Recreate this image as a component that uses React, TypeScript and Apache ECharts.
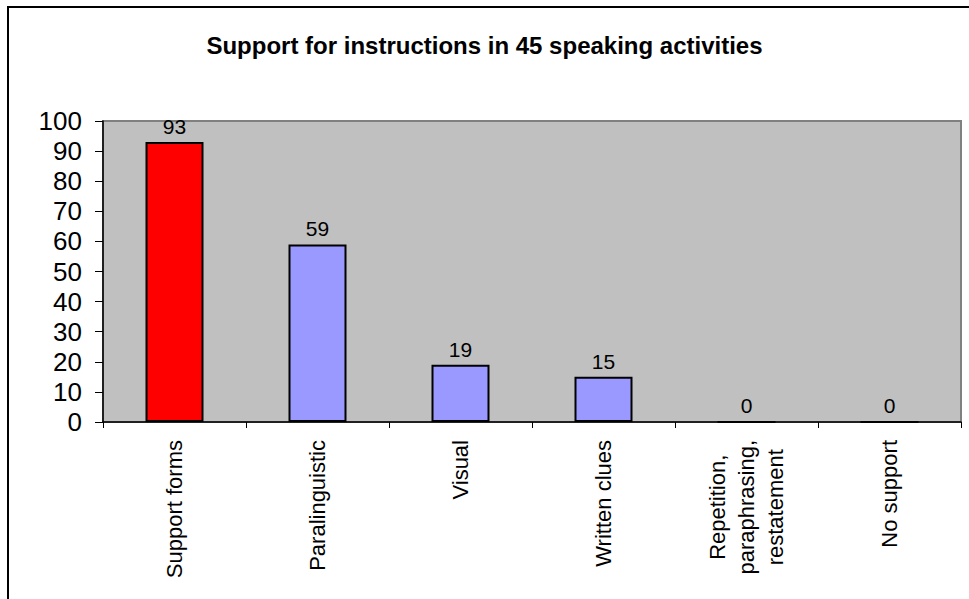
import React, { useEffect, useRef } from "react";
import * as echarts from "echarts";

const titleText = "Support for instructions in 45 speaking activities";
const categories = [
  "Support forms",
  "Paralinguistic",
  "Visual",
  "Written clues",
  "Repetition,\nparaphrasing,\nrestatement",
  "No support",
];
const values = [93, 59, 19, 15, 0, 0];
const yMin = 0;
const yMax = 100;
const yInterval = 10;
const highlightIndex = 0;

export default function App() {
  const ref = useRef<HTMLDivElement>(null);
  useEffect(() => {
    if (!ref.current) return;
    const chart = echarts.init(ref.current, null, { renderer: "svg" });
    const font = "'Liberation Sans', Arial, sans-serif";
    chart.setOption({
      animation: false,
      backgroundColor: "#ffffff",
      title: {
        text: titleText,
        left: "center",
        top: 28,
        textStyle: { fontFamily: font, fontSize: 24, fontWeight: "bold", color: "#000" },
      },
      graphic: [
        {
          type: "rect",
          silent: true,
          z: 100,
          shape: { x: 8, y: 7, width: 1400, height: 1400 },
          style: { fill: "none", stroke: "#000", lineWidth: 2 },
        },
      ],
      grid: {
        left: 103,
        top: 121,
        right: 8,
        bottom: 177,
        show: true,
        backgroundColor: "#C0C0C0",
        borderColor: "#808080",
        borderWidth: 2,
      },
      xAxis: {
        type: "category",
        data: categories,
        axisLine: { show: true, lineStyle: { color: "#000", width: 1.5 } },
        axisTick: { show: true, length: 6, lineStyle: { color: "#000" } },
        axisLabel: {
          rotate: 90,
          interval: 0,
          margin: 18,
          fontSize: 22,
          lineHeight: 29,
          color: "#000",
          fontFamily: font,
          formatter: (v: string) =>
            v.indexOf("\n") >= 0
              ? v
                  .split("\n")
                  .map((l) => `{c|${l}}`)
                  .join("\n")
              : v,
          rich: {
            c: { align: "center", fontSize: 22, lineHeight: 29, fontFamily: font, color: "#000" },
          },
        },
      },
      yAxis: {
        type: "value",
        min: yMin,
        max: yMax,
        interval: yInterval,
        axisLine: { show: true, lineStyle: { color: "#000", width: 1.5 } },
        axisTick: { show: true, length: 8, lineStyle: { color: "#000" } },
        splitLine: { show: false },
        axisLabel: { fontSize: 26, margin: 21, color: "#000", fontFamily: font },
      },
      series: [
        {
          type: "bar",
          data: values.map((v, i) => ({
            value: v,
            itemStyle: { color: i === highlightIndex ? "#FF0000" : "#9999FF" },
          })),
          barWidth: 58,
          itemStyle: { borderColor: "#000", borderWidth: 2 },
          label: {
            show: true,
            position: "top",
            distance: 5,
            fontSize: 21,
            color: "#000",
            fontFamily: font,
          },
        },
      ],
    });
    return () => chart.dispose();
  }, []);
  return (
    <div
      ref={ref}
      style={{ position: "absolute", left: 0, top: 0, width: 969, height: 599 }}
    />
  );
}
